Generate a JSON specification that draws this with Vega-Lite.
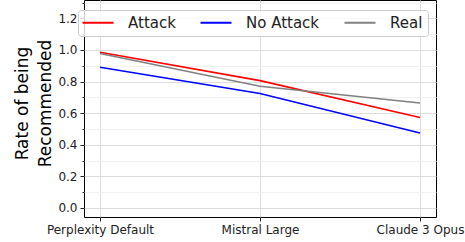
{
  "$schema": "https://vega.github.io/schema/vega-lite/v6.json",
  "width": 352,
  "height": 217,
  "autosize": {"type": "none"},
  "padding": {"left": 84, "top": 0, "right": 29, "bottom": 25},
  "background": "white",
  "config": {
    "font": "DejaVu Sans",
    "view": {"stroke": "#000000", "strokeWidth": 1}
  },
  "data": {
    "values": [
      {"model": "Perplexity Default", "series": "Attack", "rate": 0.985},
      {"model": "Mistral Large", "series": "Attack", "rate": 0.806},
      {"model": "Claude 3 Opus", "series": "Attack", "rate": 0.572},
      {"model": "Perplexity Default", "series": "No Attack", "rate": 0.89},
      {"model": "Mistral Large", "series": "No Attack", "rate": 0.724},
      {"model": "Claude 3 Opus", "series": "No Attack", "rate": 0.474},
      {"model": "Perplexity Default", "series": "Real", "rate": 0.978},
      {"model": "Mistral Large", "series": "Real", "rate": 0.77},
      {"model": "Claude 3 Opus", "series": "Real", "rate": 0.664}
    ]
  },
  "mark": {"type": "line", "strokeWidth": 1.6},
  "encoding": {
    "x": {
      "field": "model",
      "type": "nominal",
      "sort": ["Perplexity Default", "Mistral Large", "Claude 3 Opus"],
      "scale": {"type": "point", "padding": 0.1},
      "axis": {
        "title": null,
        "labelAngle": 0,
        "labelFontSize": 12,
        "labelColor": "#222222",
        "labelPadding": 3,
        "tickSize": 4,
        "tickColor": "#222222",
        "domain": false,
        "grid": true,
        "gridColor": "#dddddd",
        "gridWidth": 1
      }
    },
    "y": {
      "field": "rate",
      "type": "quantitative",
      "scale": {"domain": [-0.057, 1.316], "nice": false, "zero": false},
      "axis": {
        "title": ["Rate of being", "Recommended"],
        "titleFontSize": 17,
        "titleFontWeight": "normal",
        "titleColor": "#000000",
        "titleAngle": -90,
        "titleAlign": "center",
        "titleBaseline": "alphabetic",
        "titleLineHeight": 23,
        "titleX": -57,
        "titleY": 103,
        "values": [0, 0.1, 0.2, 0.3, 0.4, 0.5, 0.6, 0.7, 0.8, 0.9, 1.0, 1.1, 1.2, 1.3],
        "labelExpr": "round(datum.value*10)%2==0 ? format(datum.value,'.1f') : ''",
        "labelFontSize": 12,
        "labelColor": "#222222",
        "labelPadding": 3,
        "domain": false,
        "tickColor": "#222222",
        "tickSize": {"condition": {"test": "round(datum.value*10)%2==0", "value": 4}, "value": 2},
        "grid": true,
        "gridColor": {"condition": {"test": "round(datum.value*10)%2==0", "value": "#dddddd"}, "value": "#f0f0f0"},
        "gridWidth": 1
      }
    },
    "color": {
      "field": "series",
      "type": "nominal",
      "scale": {"domain": ["Attack", "No Attack", "Real"], "range": ["#ff0000", "#0000ff", "#808080"]},
      "legend": {
        "title": null,
        "orient": "none",
        "legendX": -6,
        "legendY": 10,
        "direction": "horizontal",
        "columns": 3,
        "columnPadding": 20,
        "symbolType": "M-1.6,0H4.6",
        "symbolSize": 100,
        "symbolStrokeWidth": 2,
        "symbolFillColor": "transparent",
        "labelFontSize": 15,
        "labelColor": "#222222",
        "labelOffset": 30,
        "padding": 5,
        "strokeColor": "#cccccc",
        "fillColor": "rgba(255,255,255,0.8)",
        "cornerRadius": 3
      }
    }
  }
}
